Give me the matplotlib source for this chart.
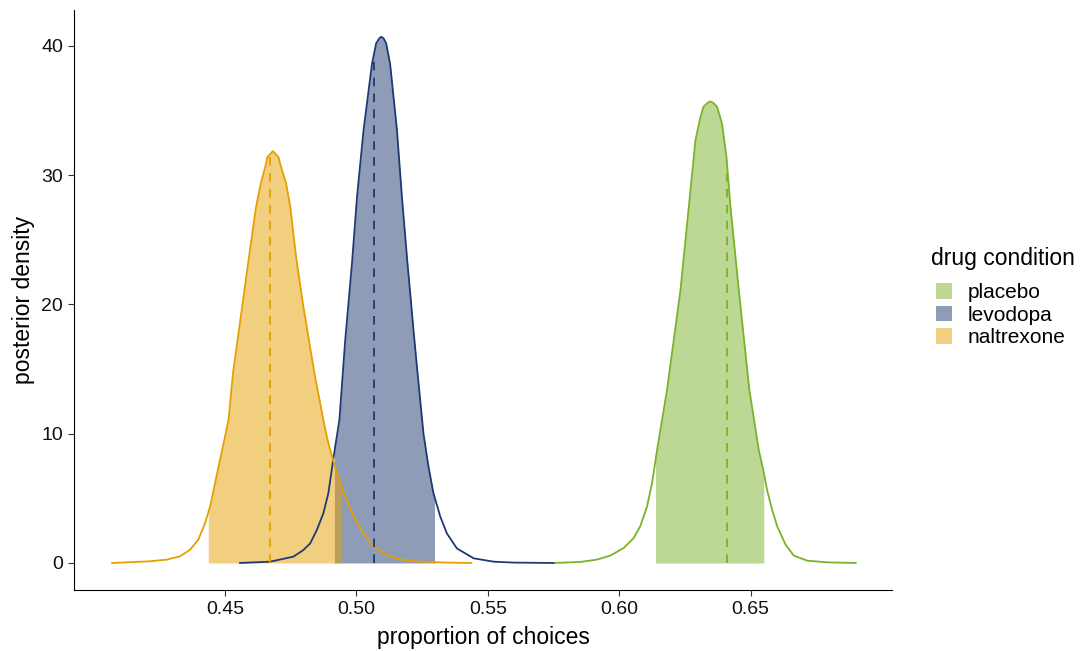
import numpy as np
import matplotlib
matplotlib.use("Agg")
import matplotlib.pyplot as plt
from matplotlib.patches import Patch

plt.rcParams['font.family'] = ['Liberation Sans', 'DejaVu Sans']

# ---- data ----
conditions = ["placebo", "levodopa", "naltrexone"]

placebo_x = [0.5750, 0.5852, 0.5915, 0.5966, 0.6017, 0.6055, 0.6080, 0.6106, 0.6125,
             0.6144, 0.6182, 0.6233, 0.6271, 0.6290, 0.6309, 0.6321, 0.6337, 0.6347,
             0.6357, 0.6372, 0.6391, 0.6408, 0.6423, 0.6455, 0.6495, 0.6531, 0.6548,
             0.6563, 0.6582, 0.6601, 0.6633, 0.6664, 0.6715, 0.6791, 0.6900]
placebo_y = [0.0, 0.08, 0.26, 0.57, 1.16, 1.93, 2.84, 4.38, 6.19,
             8.74, 13.4, 21.1, 28.8, 32.7, 34.5, 35.3, 35.6, 35.7,
             35.6, 35.3, 34.0, 31.4, 27.6, 21.1, 13.4, 8.74, 7.2,
             5.6, 4.1, 2.84, 1.42, 0.57, 0.18, 0.05, 0.0]

levodopa_x = [0.4557, 0.4671, 0.4760, 0.4798, 0.4824, 0.4849, 0.4874, 0.4893, 0.4906,
              0.4919, 0.4935, 0.4957, 0.4983, 0.5002, 0.5027, 0.5059, 0.5075, 0.5087,
              0.5094, 0.5103, 0.5113, 0.5128, 0.5154, 0.5173, 0.5194, 0.5207, 0.5217,
              0.5230, 0.5255, 0.5274, 0.5293, 0.5319, 0.5344, 0.5382, 0.5446, 0.5522,
              0.5598, 0.5750]
levodopa_y = [0.0, 0.1, 0.49, 1.0, 1.52, 2.55, 3.84, 5.4, 7.2,
              9.0, 11.06, 17.2, 23.2, 28.3, 33.5, 38.6, 40.2, 40.58,
              40.7, 40.58, 40.2, 38.6, 33.5, 28.3, 23.2, 20.3, 18.0,
              15.2, 10.0, 7.45, 5.39, 3.58, 2.29, 1.13, 0.36, 0.1,
              0.03, 0.0]

naltrexone_x = [0.4070, 0.4214, 0.4278, 0.4329, 0.4367, 0.4398, 0.4424, 0.4443, 0.4462,
                0.4478, 0.4497, 0.4513, 0.4530, 0.4565, 0.4591, 0.4618, 0.4636, 0.4653,
                0.4661, 0.4682, 0.4703, 0.4709, 0.4732, 0.4748, 0.4770, 0.4798, 0.4840,
                0.4874, 0.4890, 0.4900, 0.4938, 0.4989, 0.5027, 0.5065, 0.5116, 0.5166,
                0.5243, 0.5344, 0.5437]
naltrexone_y = [0.0, 0.13, 0.26, 0.52, 1.03, 1.8, 3.09, 4.38, 6.19,
                7.73, 9.51, 11.06, 14.67, 19.82, 23.69, 27.56, 29.37, 30.65,
                31.4, 31.86, 31.4, 30.9, 29.37, 27.56, 23.69, 19.82, 14.67,
                11.06, 9.51, 8.74, 6.16, 3.58, 2.29, 1.26, 0.62, 0.28,
                0.1, 0.03, 0.0]

# highest density intervals and central estimate (dashed line)
hdi_low = [0.6138, 0.4916, 0.4436]
hdi_high = [0.6550, 0.5297, 0.4944]
centre = [0.6411, 0.5067, 0.4671]

x_ticks = [0.45, 0.50, 0.55, 0.60, 0.65]
x_ticklabels = ["0.45", "0.50", "0.55", "0.60", "0.65"]
y_ticks = [0, 10, 20, 30, 40]

line_colors = ["#7AB22A", "#1F3A72", "#E69F00"]

curves_x = [placebo_x, levodopa_x, naltrexone_x]
curves_y = [placebo_y, levodopa_y, naltrexone_y]

W, H = 1081, 651

# ---- figure ----
fig = plt.figure(figsize=(W / 100, H / 100), dpi=100)
ax = fig.add_axes([74 / W, 61 / H, (892 - 74) / W, (590 - 10) / H])

# HDI fills
for cx, cy, lo, hi, col in zip(curves_x, curves_y, hdi_low, hdi_high, line_colors):
    cx = np.asarray(cx); cy = np.asarray(cy)
    inner = cx[(cx > lo) & (cx < hi)]
    xs = np.concatenate([[lo], inner, [hi]])
    ys = np.interp(xs, cx, cy)
    ax.fill_between(xs, 0, ys, color=col, alpha=0.5, linewidth=0)

# density lines
for cx, cy, col in zip(curves_x, curves_y, line_colors):
    ax.plot(cx, cy, color=col, linewidth=1.3, solid_joinstyle='round')

# dashed central lines
for cx, cy, c, col in zip(curves_x, curves_y, centre, line_colors):
    h = np.interp(c, cx, cy)
    ax.plot([c, c], [0, h], color=col, linewidth=1.3, linestyle=(0, (4.8, 4)))

ax.set_xlim(0.3925, 0.7038)
ax.set_ylim(-2.09, 42.77)
ax.set_xticks(x_ticks)
ax.set_xticklabels(x_ticklabels)
ax.set_yticks(y_ticks)

for s in ["top", "right"]:
    ax.spines[s].set_visible(False)
for s in ["left", "bottom"]:
    ax.spines[s].set_linewidth(0.8)
    ax.spines[s].set_color("black")

ax.tick_params(axis='both', direction='out', length=4, width=0.8, color='#333333',
               labelsize=14, labelcolor='#111111', pad=4)

ax.set_xlabel("proportion of choices", fontsize=16.5, labelpad=6, color='black')
ax.set_ylabel("posterior density", fontsize=16.5, labelpad=4, color='black')

# legend: title as text, entries as legend
fig.text(931 / W, 1 - 259 / H, "drug condition", fontsize=16.5, ha='left', va='center')
handles = [Patch(facecolor=col, alpha=0.5, edgecolor='none') for col in line_colors]
leg = fig.legend(handles, conditions, loc='upper left',
                 bbox_to_anchor=(932 / W, 1 - 279 / H), frameon=False,
                 fontsize=15, handlelength=0.75, handleheight=0.75,
                 handletextpad=0.75, labelspacing=0.17, borderpad=0.2,
                 borderaxespad=0)

fig.savefig("out.png", dpi=100)
